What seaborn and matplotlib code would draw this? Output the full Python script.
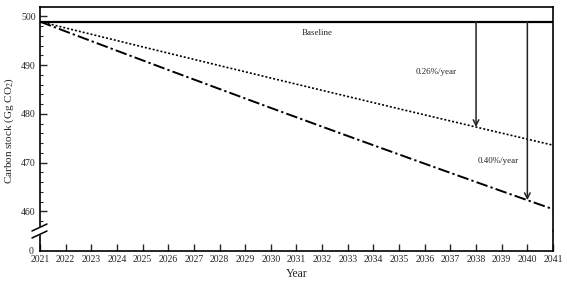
import matplotlib
matplotlib.use("Agg")
import matplotlib.pyplot as plt
import seaborn as sns
import pandas as pd
import numpy as np

years = list(range(2021, 2042))
baseline = [498.9] * 21
rate_026 = [498.90, 497.60, 496.31, 495.02, 493.73, 492.45, 491.17, 489.89, 488.62, 487.35,
            486.08, 484.82, 483.56, 482.30, 481.04, 479.79, 478.55, 477.30, 476.06, 474.82, 473.59]
rate_040 = [498.90, 496.90, 494.92, 492.94, 490.97, 489.00, 487.05, 485.10, 483.16, 481.22,
            479.30, 477.38, 475.47, 473.57, 471.68, 469.79, 467.91, 466.04, 464.17, 462.32, 460.47]
ytick_vals = [460, 470, 480, 490, 500]
arrow_026_year = 2038
arrow_040_year = 2040

sns.set_style("ticks")
plt.rcParams['font.family'] = ['Liberation Serif', 'DejaVu Serif']
plt.rcParams['mathtext.fontset'] = 'stix'

fig = plt.figure(figsize=(5.67, 2.85), dpi=100)
L, R = 40 / 567, 553 / 567
top_y = 1 - 7 / 285
split = 1 - 231 / 285
bot = 1 - 251 / 285
ax = fig.add_axes([L, split, R - L, top_y - split])
axb = fig.add_axes([L, bot, R - L, split - bot], sharex=ax)

df = pd.DataFrame({"Year": years, "Baseline": baseline, "r026": rate_026, "r040": rate_040})
sns.lineplot(data=df, x="Year", y="Baseline", ax=ax, color="black", lw=1.6)
sns.lineplot(data=df, x="Year", y="r026", ax=ax, color="black", lw=1.2, linestyle=(0, (1.2, 1.2)))
sns.lineplot(data=df, x="Year", y="r040", ax=ax, color="black", lw=1.4,
             linestyle=(0, (6, 1.6, 1.2, 1.6)))

ax.set_xlim(2021, 2041)
ax.set_ylim(456.2, 501.9)
ax.set_yticks(ytick_vals)
ax.set_yticks(np.arange(456, 502, 2), minor=True)
ax.tick_params(axis='y', which='major', direction='in', length=5, width=1, labelsize=7, pad=3)
ax.tick_params(axis='y', which='minor', direction='in', length=2.5, width=0.8)
ax.tick_params(axis='x', which='both', bottom=False, labelbottom=False)
ax.set_xlabel("")
ax.set_ylabel("")
for s in ['top', 'right', 'left']:
    ax.spines[s].set_visible(True)
    ax.spines[s].set_linewidth(1.2)
    ax.spines[s].set_color('black')
ax.spines['bottom'].set_visible(False)

axb.set_ylim(0, 4)
axb.set_yticks([0])
axb.set_xticks(years)
axb.tick_params(axis='y', which='both', direction='in', length=0, labelsize=7, pad=5)
axb.tick_params(axis='x', which='major', direction='in', length=5, width=1, labelsize=7, pad=3)
for s in ['bottom', 'right', 'left']:
    axb.spines[s].set_visible(True)
    axb.spines[s].set_linewidth(1.2)
    axb.spines[s].set_color('black')
axb.spines['top'].set_visible(False)
axb.set_xlabel("Year", fontsize=8.5, labelpad=3)
axb.set_ylabel("")

fig.text(0.004, 1 - 130 / 285, "Carbon stock (Gg CO$_2$)", rotation=90,
         va='center', ha='left', fontsize=8)

# arrows
ax.annotate("", xy=(arrow_026_year, rate_026[years.index(arrow_026_year)]),
            xytext=(arrow_026_year, baseline[0]),
            arrowprops=dict(arrowstyle='->', color='#222222', lw=1.1, shrinkA=0, shrinkB=0,
                            mutation_scale=10))
ax.annotate("", xy=(arrow_040_year, rate_040[years.index(arrow_040_year)]),
            xytext=(arrow_040_year, baseline[0]),
            arrowprops=dict(arrowstyle='->', color='#222222', lw=1.1, shrinkA=0, shrinkB=0,
                            mutation_scale=10))
ax.text(2036.45, 488.6, "0.26%/year", fontsize=6.5, ha='center', va='center')
ax.text(2038.85, 470.4, "0.40%/year", fontsize=6.5, ha='center', va='center')
ax.text(2031.8, 496.6, "Baseline", fontsize=6.5, ha='center', va='center')

# break marks
W, H = 567, 285
x0, x1 = 32 / W, 47 / W
ya0, ya1 = 1 - 231 / H, 1 - 224 / H
yb0, yb1 = 1 - 238 / H, 1 - 231 / H
poly = plt.Polygon([[x0, ya0], [x1, ya1], [x1, yb1], [x0, yb0]], closed=True,
                   transform=fig.transFigure, color='white', zorder=10)
fig.add_artist(poly)
fig.add_artist(plt.Line2D([x0, x1], [ya0, ya1], transform=fig.transFigure, color='black', lw=1.1, zorder=11))
fig.add_artist(plt.Line2D([x0, x1], [yb0, yb1], transform=fig.transFigure, color='black', lw=1.1, zorder=11))

fig.savefig("out.png", dpi=100, facecolor='white')
